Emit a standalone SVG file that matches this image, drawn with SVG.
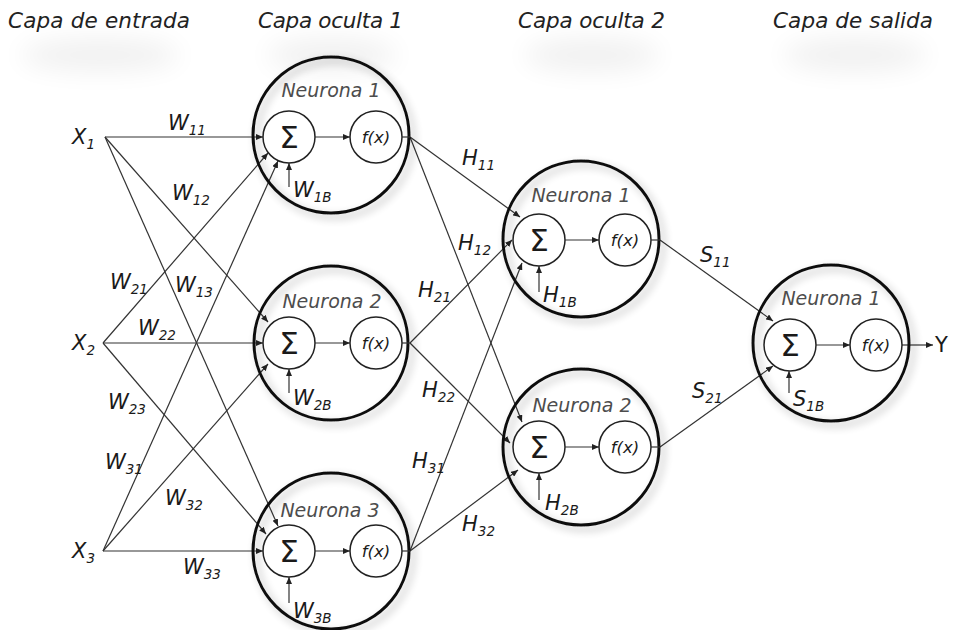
<svg xmlns="http://www.w3.org/2000/svg" width="953" height="630" viewBox="0 0 953 630">
  <style>
    text { font-family: "DejaVu Sans", "Liberation Sans", sans-serif; fill: #1a1a1a; }
    .hdr { font-size: 21.5px; font-style: italic; fill: #222; }
    .lbl { font-size: 21px; font-style: italic; }
    .sub { font-size: 13.5px; }
    .neu { font-size: 19px; font-style: italic; fill: #4d4d4d; text-anchor: middle; }
    .sig { font-size: 31px; text-anchor: middle; }
    .fx { font-size: 16.5px; font-style: italic; text-anchor: middle; }
    .ring { fill: none; stroke: #111; stroke-width: 3; filter: url(#soft); }
    .unit { fill: #fff; stroke: #222; stroke-width: 1.5; }
    .wire { stroke: #333; stroke-width: 1.2; fill: none; }
    .arr { marker-end: url(#ah); }
    .haze { fill: #000; opacity: 0.06; filter: url(#blur); }
  </style>
  <defs>
    <marker id="ah" markerUnits="userSpaceOnUse" markerWidth="8" markerHeight="6" refX="7" refY="3" orient="auto">
      <path d="M0,0 L7,3 L0,6 z" fill="#222"/>
    </marker>
    <filter id="soft" x="-20%" y="-20%" width="140%" height="140%">
      <feGaussianBlur in="SourceAlpha" stdDeviation="4"/>
      <feOffset dx="4" dy="4" result="b"/>
      <feComponentTransfer in="b" result="s">
        <feFuncA type="linear" slope="0.3"/>
      </feComponentTransfer>
      <feMerge>
        <feMergeNode in="s"/>
        <feMergeNode in="SourceGraphic"/>
      </feMerge>
    </filter>
    <filter id="blur" x="-50%" y="-150%" width="200%" height="400%">
      <feGaussianBlur stdDeviation="13"/>
    </filter>
  </defs>

  <rect width="953" height="630" fill="#fff"/>

  <!-- soft shading under the layer titles -->
  <g id="title-haze">
    <ellipse class="haze" cx="100" cy="55" rx="80" ry="16"/>
    <ellipse class="haze" cx="332" cy="55" rx="65" ry="16"/>
    <ellipse class="haze" cx="592" cy="55" rx="68" ry="16"/>
    <ellipse class="haze" cx="855" cy="55" rx="72" ry="16"/>
  </g>

  <g id="titles">
    <text class="hdr" x="8" y="28" textLength="182">Capa de entrada</text>
    <text class="hdr" x="258" y="28" textLength="145">Capa oculta 1</text>
    <text class="hdr" x="518" y="28" textLength="147">Capa oculta 2</text>
    <text class="hdr" x="773" y="28" textLength="160">Capa de salida</text>
  </g>

  <!-- weighted links between layers -->
  <g id="connectors">
    <!-- input layer to hidden layer 1 -->
    <line class="wire arr" x1="105" y1="137" x2="263" y2="137"/>
    <line class="wire arr" x1="105" y1="137" x2="268" y2="322"/>
    <line class="wire arr" x1="105" y1="137" x2="278" y2="526"/>
    <line class="wire arr" x1="103" y1="343" x2="268" y2="153"/>
    <line class="wire arr" x1="103" y1="343" x2="263" y2="343"/>
    <line class="wire arr" x1="103" y1="343" x2="266" y2="534"/>
    <line class="wire arr" x1="103" y1="551" x2="278" y2="161"/>
    <line class="wire arr" x1="103" y1="551" x2="268" y2="364"/>
    <line class="wire arr" x1="103" y1="551" x2="263" y2="551"/>
    <!-- hidden layer 1 to hidden layer 2 -->
    <line class="wire arr" x1="410" y1="137" x2="520" y2="217"/>
    <line class="wire arr" x1="410" y1="137" x2="522" y2="422"/>
    <line class="wire arr" x1="410" y1="343" x2="512" y2="240"/>
    <line class="wire arr" x1="410" y1="343" x2="510" y2="443"/>
    <line class="wire arr" x1="410" y1="551" x2="522" y2="263"/>
    <line class="wire arr" x1="410" y1="551" x2="518" y2="470"/>
    <!-- hidden layer 2 to output -->
    <line class="wire arr" x1="660" y1="240" x2="773" y2="321"/>
    <line class="wire arr" x1="660" y1="447" x2="773" y2="366"/>
    <!-- network output -->
    <line class="wire arr" x1="902" y1="345" x2="933" y2="345"/>
  </g>

  <g id="weights">
    <text class="lbl" x="168" y="130">W<tspan class="sub" dy="5">11</tspan></text>
    <text class="lbl" x="172" y="200">W<tspan class="sub" dy="5">12</tspan></text>
    <text class="lbl" x="175" y="292">W<tspan class="sub" dy="5">13</tspan></text>
    <text class="lbl" x="110" y="289">W<tspan class="sub" dy="5">21</tspan></text>
    <text class="lbl" x="138" y="335">W<tspan class="sub" dy="5">22</tspan></text>
    <text class="lbl" x="108" y="409">W<tspan class="sub" dy="5">23</tspan></text>
    <text class="lbl" x="105" y="469">W<tspan class="sub" dy="5">31</tspan></text>
    <text class="lbl" x="165" y="505">W<tspan class="sub" dy="5">32</tspan></text>
    <text class="lbl" x="183" y="574">W<tspan class="sub" dy="5">33</tspan></text>
    <text class="lbl" x="462" y="165">H<tspan class="sub" dy="5">11</tspan></text>
    <text class="lbl" x="458" y="250">H<tspan class="sub" dy="5">12</tspan></text>
    <text class="lbl" x="418" y="297">H<tspan class="sub" dy="5">21</tspan></text>
    <text class="lbl" x="422" y="397">H<tspan class="sub" dy="5">22</tspan></text>
    <text class="lbl" x="412" y="468">H<tspan class="sub" dy="5">31</tspan></text>
    <text class="lbl" x="462" y="531">H<tspan class="sub" dy="5">32</tspan></text>
    <text class="lbl" x="700" y="262">S<tspan class="sub" dy="5">11</tspan></text>
    <text class="lbl" x="692" y="398">S<tspan class="sub" dy="5">21</tspan></text>
  </g>

  <!-- inputs -->
  <g id="x1"><text class="lbl" x="72" y="144">X<tspan class="sub" dy="5">1</tspan></text></g>
  <g id="x2"><text class="lbl" x="72" y="350">X<tspan class="sub" dy="5">2</tspan></text></g>
  <g id="x3"><text class="lbl" x="72" y="558">X<tspan class="sub" dy="5">3</tspan></text></g>

  <!-- hidden layer 1 -->
  <g id="h1-n1">
    <circle class="ring" cx="331" cy="135" r="78"/>
    <text class="neu" x="331" y="97">Neurona 1</text>
    <circle class="unit" cx="289" cy="137" r="26"/>
    <text class="sig" x="289" y="148">Σ</text>
    <line class="wire arr" x1="315" y1="137" x2="350" y2="137"/>
    <circle class="unit" cx="376" cy="137" r="26"/>
    <text class="fx" x="376" y="143">f(x)</text>
    <line class="wire" x1="402" y1="137" x2="410" y2="137"/>
    <line class="wire arr" x1="289" y1="187" x2="289" y2="163"/>
    <text class="lbl" x="293" y="197">W<tspan class="sub" dy="5">1B</tspan></text>
  </g>
  <g id="h1-n2">
    <circle class="ring" cx="331" cy="343" r="77"/>
    <text class="neu" x="332" y="308">Neurona 2</text>
    <circle class="unit" cx="289" cy="343" r="26"/>
    <text class="sig" x="289" y="354">Σ</text>
    <line class="wire arr" x1="315" y1="343" x2="350" y2="343"/>
    <circle class="unit" cx="376" cy="343" r="26"/>
    <text class="fx" x="376" y="349">f(x)</text>
    <line class="wire" x1="402" y1="343" x2="410" y2="343"/>
    <line class="wire arr" x1="289" y1="393" x2="289" y2="369"/>
    <text class="lbl" x="293" y="405">W<tspan class="sub" dy="5">2B</tspan></text>
  </g>
  <g id="h1-n3">
    <circle class="ring" cx="331" cy="551" r="78"/>
    <text class="neu" x="330" y="517">Neurona 3</text>
    <circle class="unit" cx="289" cy="551" r="26"/>
    <text class="sig" x="289" y="562">Σ</text>
    <line class="wire arr" x1="315" y1="551" x2="350" y2="551"/>
    <circle class="unit" cx="376" cy="551" r="26"/>
    <text class="fx" x="376" y="557">f(x)</text>
    <line class="wire" x1="402" y1="551" x2="410" y2="551"/>
    <line class="wire arr" x1="289" y1="603" x2="289" y2="577"/>
    <text class="lbl" x="293" y="618">W<tspan class="sub" dy="5">3B</tspan></text>
  </g>

  <!-- hidden layer 2 -->
  <g id="h2-n1">
    <circle class="ring" cx="581" cy="239" r="78"/>
    <text class="neu" x="581" y="202">Neurona 1</text>
    <circle class="unit" cx="539" cy="240" r="26"/>
    <text class="sig" x="539" y="251">Σ</text>
    <line class="wire arr" x1="565" y1="240" x2="599" y2="240"/>
    <circle class="unit" cx="625" cy="240" r="26"/>
    <text class="fx" x="625" y="246">f(x)</text>
    <line class="wire" x1="651" y1="240" x2="660" y2="240"/>
    <line class="wire arr" x1="539" y1="292" x2="539" y2="266"/>
    <text class="lbl" x="543" y="302">H<tspan class="sub" dy="5">1B</tspan></text>
  </g>
  <g id="h2-n2">
    <circle class="ring" cx="581" cy="447" r="78"/>
    <text class="neu" x="582" y="412">Neurona 2</text>
    <circle class="unit" cx="539" cy="447" r="26"/>
    <text class="sig" x="539" y="458">Σ</text>
    <line class="wire arr" x1="565" y1="447" x2="599" y2="447"/>
    <circle class="unit" cx="625" cy="447" r="26"/>
    <text class="fx" x="625" y="453">f(x)</text>
    <line class="wire" x1="651" y1="447" x2="660" y2="447"/>
    <line class="wire arr" x1="539" y1="500" x2="539" y2="473"/>
    <text class="lbl" x="545" y="510">H<tspan class="sub" dy="5">2B</tspan></text>
  </g>

  <!-- output layer -->
  <g id="out-n1">
    <circle class="ring" cx="831" cy="343" r="78"/>
    <text class="neu" x="831" y="305">Neurona 1</text>
    <circle class="unit" cx="790" cy="345" r="26"/>
    <text class="sig" x="790" y="356">Σ</text>
    <line class="wire arr" x1="816" y1="345" x2="850" y2="345"/>
    <circle class="unit" cx="876" cy="345" r="26"/>
    <text class="fx" x="876" y="351">f(x)</text>
    <line class="wire arr" x1="789" y1="393" x2="789" y2="371"/>
    <text class="lbl" x="793" y="406">S<tspan class="sub" dy="5">1B</tspan></text>
  </g>
  <g id="y"><text class="lbl" x="935" y="352" style="font-style:normal">Y</text></g>
</svg>
